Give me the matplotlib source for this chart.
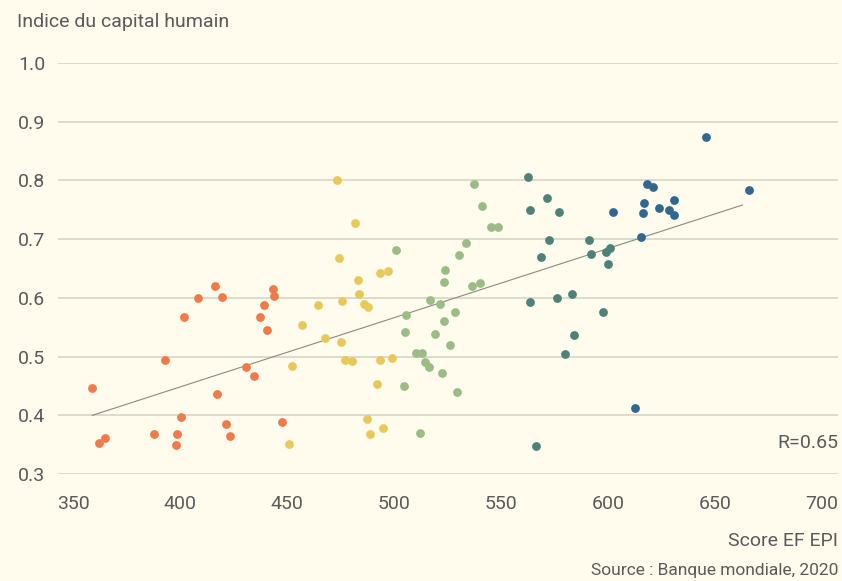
import matplotlib.pyplot as plt
import numpy as np

plt.rcParams['font.family'] = ['Roboto', 'DejaVu Sans']

# Score EF EPI (x) and Indice du capital humain (y), grouped by colour
orange_x = [358.9, 362.0, 365.0, 387.7, 393.0, 398.0, 398.6, 400.3, 401.9, 408.6, 416.4, 419.6,
            417.5, 421.6, 423.2, 431.0, 434.7, 437.4, 439.4, 440.8, 443.3, 443.8, 447.8]
orange_y = [0.446, 0.353, 0.361, 0.368, 0.494, 0.350, 0.368, 0.397, 0.567, 0.600, 0.620, 0.601,
            0.436, 0.386, 0.365, 0.482, 0.467, 0.568, 0.588, 0.545, 0.615, 0.603, 0.389]

yellow_x = [473.4, 481.6, 474.4, 493.5, 497.4, 483.0, 483.6, 464.3, 475.5, 485.8, 488.1, 456.9,
            467.6, 475.1, 477.1, 480.4, 493.3, 498.9, 452.3, 492.1, 487.2, 494.9, 488.6, 450.9]
yellow_y = [0.800, 0.727, 0.667, 0.643, 0.646, 0.630, 0.606, 0.588, 0.595, 0.589, 0.585, 0.553,
            0.531, 0.525, 0.494, 0.492, 0.495, 0.497, 0.484, 0.453, 0.394, 0.379, 0.369, 0.351]

green_x = [501.2, 533.8, 530.2, 524.1, 523.4, 516.8, 521.6, 505.7, 523.4, 505.1, 519.0, 528.6,
           526.3, 510.4, 512.9, 514.3, 516.2, 522.6, 504.8, 529.3, 512.3, 537.5, 541.3, 545.6,
           548.8, 536.6, 540.3]
green_y = [0.681, 0.693, 0.673, 0.647, 0.627, 0.597, 0.590, 0.570, 0.560, 0.542, 0.538, 0.575,
           0.519, 0.506, 0.506, 0.491, 0.482, 0.472, 0.450, 0.440, 0.370, 0.793, 0.757, 0.721,
           0.721, 0.620, 0.625]

teal_x = [562.8, 571.5, 563.8, 577.4, 572.3, 591.1, 568.8, 592.3, 563.4, 576.0, 583.3, 584.1,
          580.2, 566.2, 599.1, 600.9, 599.9, 597.8]
teal_y = [0.806, 0.770, 0.750, 0.746, 0.699, 0.699, 0.669, 0.675, 0.593, 0.600, 0.606, 0.537,
          0.505, 0.347, 0.678, 0.685, 0.658, 0.575]

blue_x = [645.8, 666.2, 618.2, 621.3, 617.0, 631.0, 623.7, 628.8, 631.0, 616.4, 602.6, 615.3, 612.6]
blue_y = [0.873, 0.784, 0.793, 0.789, 0.762, 0.767, 0.752, 0.749, 0.741, 0.745, 0.746, 0.704, 0.413]

trend_x = [359, 663]
trend_y = [0.400, 0.758]

x_ticks = [350, 400, 450, 500, 550, 600, 650, 700]
y_ticks = [0.3, 0.4, 0.5, 0.6, 0.7, 0.8, 0.9, 1.0]

bg = '#fffcee'
txt = '#5a5a5a'

fig = plt.figure(figsize=(8.42, 5.81), dpi=100, facecolor=bg)
ax = fig.add_axes([0.069, 0.184, 0.926, 0.708], facecolor=bg)

groups = [
    (orange_x, orange_y, '#f27a4a'),
    (yellow_x, yellow_y, '#e9c85a'),
    (green_x, green_y, '#9bbd85'),
    (teal_x, teal_y, '#4e8278'),
    (blue_x, blue_y, '#30688f'),
]
for gx, gy, col in groups:
    ax.scatter(gx, gy, s=40, color=col, linewidths=0, zorder=3, clip_on=False)

ax.plot(trend_x, trend_y, color='#8c8b80', lw=0.8, zorder=2)

ax.set_xlim(343, 707.5)
ax.set_ylim(0.3, 1.0)
ax.set_xticks(x_ticks)
ax.set_yticks(y_ticks)
ax.set_yticklabels([f'{v:.1f}' for v in y_ticks])
for lab in ax.get_yticklabels():
    lab.set_horizontalalignment('left')
ax.tick_params(axis='y', length=0, pad=29, labelsize=14, labelcolor=txt)
ax.tick_params(axis='x', length=0, pad=15, labelsize=14, labelcolor=txt)

ax.grid(axis='y', color='#d8d5c8', lw=1.2, zorder=0)
ax.grid(axis='x', visible=False)
for s in ax.spines.values():
    s.set_visible(False)

fig.text(17 / 842, 1 - 22 / 581, 'Indice du capital humain', fontsize=14, color=txt,
         ha='left', va='center')
fig.text(838 / 842, 1 - 443 / 581, 'R=0.65', fontsize=14, color=txt, ha='right', va='center')
fig.text(838 / 842, 1 - 541 / 581, 'Score EF EPI', fontsize=14, color=txt, ha='right', va='center')
fig.text(838 / 842, 1 - 570 / 581, 'Source : Banque mondiale, 2020', fontsize=12.5, color=txt,
         ha='right', va='center')

fig.savefig('out.png', dpi=100, facecolor=bg)
